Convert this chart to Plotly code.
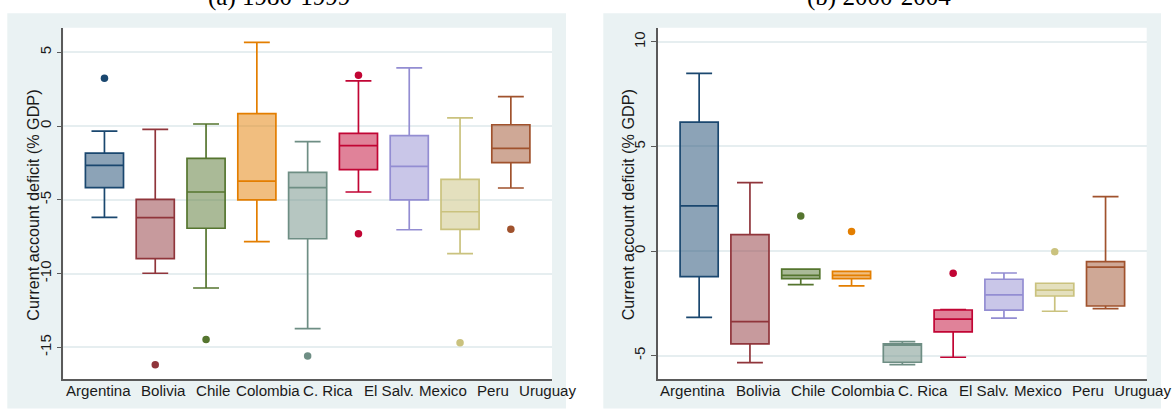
import plotly.graph_objects as go

# ---------------------------------------------------------------- data
COUNTRIES = ["Argentina", "Bolivia", "Chile", "Colombia", "C. Rica",
             "El Salv.", "Mexico", "Peru", "Uruguay"]

# Box statistics, current account deficit (% GDP), 1980-1999
A_LOW = [-6.19, -9.98, -10.98, -7.84, -13.74, -4.47, -7.03, -8.65, -4.20]
A_Q1 = [-4.18, -8.99, -6.93, -5.01, -7.64, -2.96, -5.01, -7.00, -2.48]
A_MED = [-2.66, -6.21, -4.47, -3.73, -4.18, -1.33, -2.73, -5.81, -1.51]
A_Q3 = [-1.83, -4.97, -2.19, 0.84, -3.14, -0.49, -0.65, -3.61, 0.09]
A_HIGH = [-0.34, -0.22, 0.14, 5.68, -1.06, 3.07, 3.94, 0.55, 1.99]
A_OUT = [[3.24], [-16.18], [-14.48], [], [-15.59], [3.44, -7.30], [], [-14.69], [-7.00]]

# Box statistics, 2000-2004
B_LOW = [-3.17, -5.34, -1.61, -1.67, -5.43, -5.08, -3.21, -2.88, -2.75]
B_Q1 = [-1.22, -4.44, -1.32, -1.32, -5.32, -3.87, -2.83, -2.15, -2.63]
B_MED = [2.16, -3.38, -1.16, -1.16, -4.50, -3.26, -2.10, -1.87, -0.77]
B_Q3 = [6.16, 0.78, -0.87, -0.97, -4.44, -2.82, -1.35, -1.54, -0.51]
B_HIGH = [8.50, 3.27, -0.87, -0.97, -4.33, -2.80, -1.05, -1.54, 2.60]
B_OUT = [[], [], [1.68], [0.93], [], [-1.06], [], [-0.03], []]

A_TICKS = [-15, -10, -5, 0, 5]
A_TICKTEXT = ["-15", "-10", "-5", "0", "5"]
B_TICKS = [-5, 0, 5, 10]
B_TICKTEXT = ["-5", "0", "5", "10"]

TITLES = ["(a) 1980-1999", "(b) 2000-2004"]
Y_TITLE = "Current account deficit (% GDP)"

# ---------------------------------------------------------------- style
W, H = 1172, 409
COLORS = ["#1A476F", "#90353B", "#55752F", "#E37E00", "#6E8E84",
          "#C10534", "#938DD2", "#CAC27E", "#A0522D"]
REGION = "#EAF2F3"
GRID = "#E6EEF0"
AXIS = "#5A5A5A"
TEXT = "#1A1A1A"
SANS = "Liberation Sans, Arial, sans-serif"
SERIF = "Liberation Serif, Times New Roman, serif"

# panel geometry in pixels
PANELS = [
    dict(bg=(7.3, 566.0), plot=(63.3, 552.0), title_x=279,
         yrange=[-17.15, 6.67]),
    dict(bg=(603.3, 1161.0), plot=(658.0, 1146.7), title_x=879,
         yrange=[-6.12, 10.68]),
]
PLOT_TOP, PLOT_BOTTOM, BG_TOP = 27.7, 379.0, 13.3
LABEL_OFFSETS = [2.7, 78.5, 133.5, 173.5, 240.0, 301.5, 356.0, 414.0, 456.0]


def px(xp):
    return xp / W


def py(yp):
    return 1 - yp / H


def rgba(hex_color, a):
    h = hex_color.lstrip("#")
    r, g, b = (int(h[i:i + 2], 16) for i in (0, 2, 4))
    return f"rgba({r},{g},{b},{a})"


fig = go.Figure()

datasets = [
    (A_LOW, A_Q1, A_MED, A_Q3, A_HIGH, A_OUT),
    (B_LOW, B_Q1, B_MED, B_Q3, B_HIGH, B_OUT),
]

for p, (low, q1, med, q3, high, outs) in enumerate(datasets):
    xa = "x" if p == 0 else "x2"
    ya = "y" if p == 0 else "y2"
    for i, name in enumerate(COUNTRIES):
        c = COLORS[i]
        fig.add_trace(go.Box(
            x=[i], q1=[q1[i]], median=[med[i]], q3=[q3[i]],
            lowerfence=[low[i]], upperfence=[high[i]],
            name=name, width=0.75, whiskerwidth=0.68,
            line=dict(color=c, width=1.7), fillcolor=rgba(c, 0.5),
            boxpoints=False, showlegend=False, hoverinfo="skip",
            xaxis=xa, yaxis=ya,
        ))
        if outs[i]:
            fig.add_trace(go.Scatter(
                x=[i] * len(outs[i]), y=outs[i], mode="markers",
                marker=dict(color=c, size=7.5, line=dict(width=0)),
                showlegend=False, hoverinfo="skip", xaxis=xa, yaxis=ya,
            ))

shapes = []
annotations = []
for p, cfg in enumerate(PANELS):
    shapes.append(dict(type="rect", xref="paper", yref="paper", layer="below",
                       x0=px(cfg["bg"][0]), x1=px(cfg["bg"][1]),
                       y0=py(408.5), y1=py(BG_TOP),
                       fillcolor=REGION, line=dict(width=0)))
for p, cfg in enumerate(PANELS):
    shapes.append(dict(type="rect", xref="paper", yref="paper", layer="below",
                       x0=px(cfg["plot"][0]), x1=px(cfg["plot"][1]),
                       y0=py(PLOT_BOTTOM), y1=py(PLOT_TOP),
                       fillcolor="white", line=dict(width=0)))

for p, cfg in enumerate(PANELS):
    left = cfg["plot"][0]
    # panel title (sits mostly above the visible area)
    annotations.append(dict(
        text=TITLES[p], xref="paper", yref="paper",
        x=px(cfg["title_x"]), y=py(12.6), xanchor="center", yanchor="bottom",
        showarrow=False, font=dict(family=SERIF, size=25, color="black")))
    # y-axis title
    annotations.append(dict(
        text=Y_TITLE, xref="paper", yref="paper", textangle=-90,
        x=px(left - 30), y=py((PLOT_TOP + PLOT_BOTTOM) / 2 + 2),
        xanchor="center", yanchor="middle", showarrow=False,
        font=dict(family=SANS, size=16.2, color=TEXT)))
    # country names along the bottom
    for name, off in zip(COUNTRIES, LABEL_OFFSETS):
        annotations.append(dict(
            text=name, xref="paper", yref="paper",
            x=px(left + off - 2.5), y=py(401.3),
            xanchor="left", yanchor="bottom", showarrow=False,
            font=dict(family=SANS, size=15.1, color=TEXT)))

axis_common_y = dict(
    showline=True, linecolor=AXIS, linewidth=1.5,
    ticks="outside", ticklen=5, tickwidth=1.2, tickcolor=AXIS,
    tickangle=-90, tickfont=dict(family=SANS, size=15, color=TEXT),
    showgrid=True, gridcolor=GRID, gridwidth=1.5, zeroline=False,
    fixedrange=True,
)
axis_common_x = dict(
    showline=True, linecolor=AXIS, linewidth=1.5,
    showticklabels=False, ticks="", showgrid=False, zeroline=False,
    range=[-0.81, 8.81], fixedrange=True,
)

ydom = [py(PLOT_BOTTOM), py(PLOT_TOP)]
fig.update_layout(
    width=W, height=H,
    margin=dict(l=0, r=0, t=0, b=0),
    paper_bgcolor="white", plot_bgcolor="rgba(0,0,0,0)",
    boxmode="overlay",
    xaxis=dict(domain=[px(PANELS[0]["plot"][0]), px(PANELS[0]["plot"][1])],
               anchor="y", **axis_common_x),
    yaxis=dict(domain=ydom, anchor="x", range=PANELS[0]["yrange"],
               tickvals=A_TICKS, ticktext=A_TICKTEXT, **axis_common_y),
    xaxis2=dict(domain=[px(PANELS[1]["plot"][0]), px(PANELS[1]["plot"][1])],
                anchor="y2", **axis_common_x),
    yaxis2=dict(domain=ydom, anchor="x2", range=PANELS[1]["yrange"],
                tickvals=B_TICKS, ticktext=B_TICKTEXT, **axis_common_y),
    shapes=shapes,
    annotations=annotations,
)

fig.write_html("out.html")
